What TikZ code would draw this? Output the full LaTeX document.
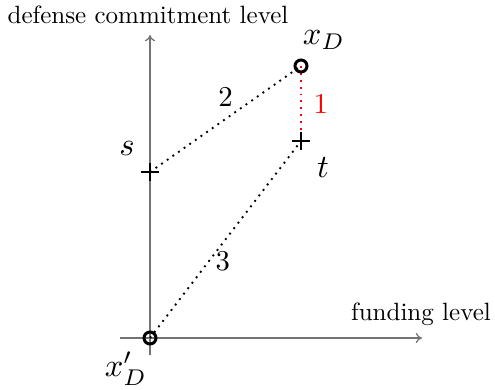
\documentclass[tikz,border=0pt]{standalone}
\usetikzlibrary{arrows.meta}
\begin{document}
\begin{tikzpicture}[x=0.4pt,y=-0.4pt,
  axis/.style={draw=black!55,line width=0.5pt,-{To[length=2.5pt,width=4pt]}},
  ptcirc/.style={circle,draw,line width=1.2pt,inner sep=0pt,minimum size=4.8pt},
  plusmark/.style={line width=0.65pt},
  dotline/.style={dotted,line width=0.75pt},
  lab/.style={inner sep=1pt},
  nlab/.style={inner sep=1pt,scale=1.15},
  mlab/.style={inner sep=1pt,scale=1.3}]
\useasboundingbox (0,0) rectangle (495,389);
% axes
\coordinate (yb) at (150,355);
\coordinate (yt) at (150,35);
\coordinate (xl) at (120,338);
\coordinate (xr) at (422,338);
\draw[axis] (yb) -- (yt);
\draw[axis] (xl) -- (xr);
% points
\coordinate (s) at (150,172);
\coordinate (t) at (301,141);
% connectors
\draw[dotline] (s) -- node[nlab,pos=0.5,above=3pt] (n2) {2} (301,66);
\draw[dotline] (150,338) -- node[nlab,pos=0.39,right=1pt] (n3) {3} (t);
\draw[dotline,red] (301,66) -- node[nlab,right=3pt,text=red] (n1) {1} (t);
\node[ptcirc] (xDp) at (150,338) {};
\node[ptcirc] (xD) at (301,66) {};
% plus marks
\draw[plusmark] ([xshift=-3.6pt]s) -- ([xshift=3.6pt]s) ([yshift=-3.6pt]s) -- ([yshift=3.6pt]s);
\draw[plusmark] ([xshift=-3.6pt]t) -- ([xshift=3.6pt]t) ([yshift=-3.6pt]t) -- ([yshift=3.6pt]t);
% labels
\node[lab] (ylab) at (148,15) {defense commitment level};
\node[lab] (flab) at (421,314) {funding level};
\node[mlab] (lxD) at (324,40) {$x_D$};
\node[mlab] (ls) at (127,148) {$s$};
\node[mlab] (lt) at (323,167) {$t$};
\node[mlab] (lxDp) at (126,369) {$x'_D$};
\end{tikzpicture}
\end{document}
